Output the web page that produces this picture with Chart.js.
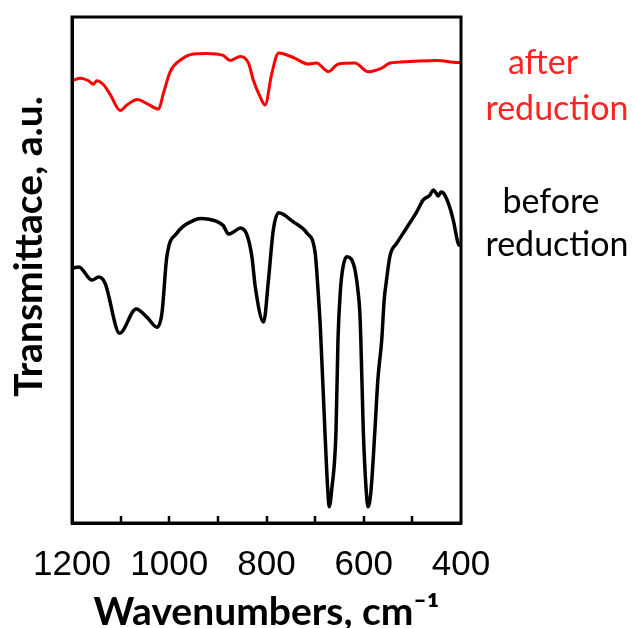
<!DOCTYPE html>
<html>
<head>
<meta charset="utf-8">
<script src="https://cdn.jsdelivr.net/npm/chart.js@4"></script>
<style>
  html, body { margin: 0; padding: 0; background: #fff; }
  #wrap { width: 633px; height: 628px; }
</style>
</head>
<body>
<div id="wrap"><canvas id="myChart"></canvas></div>
<script>
// wavenumbers (cm-1) and transmittance (a.u.)
var wnBefore = [1197, 1186, 1159, 1145, 1132, 1102, 1068, 1046, 1025, 1015, 1005, 984, 950, 936, 902, 889, 878, 868, 854, 840,
    830, 823, 806, 796, 786, 775, 745, 717, 700, 694, 689, 680, 674, 671, 666, 657, 653, 648, 643, 635, 626, 618, 612, 608,
    606, 601, 595, 591, 585, 577, 571, 563, 558, 554, 546, 532, 512, 491, 478, 464, 457, 451, 447, 441, 436, 426, 416, 406, 401];
var tBefore = [50.4, 50.6, 48.0, 48.6, 47.4, 37.5, 42.3, 40.7, 38.7, 41.5, 52.6, 57.3, 59.8, 60.2, 59.6, 58.8, 57.1, 57.5, 58.3, 56.9,
    52.6, 46.6, 39.7, 48.0, 57.9, 61.3, 59.5, 57.3, 53.4, 46.0, 38.1, 18.4, 6.5, 3.2, 6.5, 18.4, 36.2, 46.0, 50.4, 52.6, 52.2, 50.0, 46.0, 41.5,
    36.2, 18.4, 6.5, 3.2, 6.5, 18.4, 28.3, 36.2, 44.1, 47.4, 52.8, 55.3, 58.3, 61.5, 63.8, 64.8, 65.8, 65.2, 64.6, 65.4, 65.2, 63.2, 59.9, 55.3, 54.7];

var wnAfter = [1197, 1183, 1166, 1156, 1149, 1135, 1121, 1101, 1087, 1066, 1046, 1022, 1012, 998, 977, 950, 923, 889, 875, 854,
    837, 827, 813, 803, 789, 775, 745, 714, 697, 673, 652, 618, 591, 563, 546, 505, 450, 406, 401];
var tAfter = [87.5, 87.9, 87.4, 86.7, 87.4, 86.6, 84.6, 81.5, 82.6, 83.7, 82.9, 81.8, 84.9, 89.2, 91.5, 92.7, 92.8, 92.4, 91.4, 92.2,
    90.9, 87.5, 84.2, 82.6, 88.9, 92.9, 92.0, 90.7, 90.9, 89.2, 90.7, 90.9, 89.2, 89.9, 90.9, 91.2, 91.4, 91.0, 91.0];

var xTicks = [1200, 1000, 800, 600, 400];
var xMinorTicks = [1100, 1000, 900, 800, 700, 600, 500];

function toPoints(xs, ys) {
    return xs.map(function (x, i) { return { x: x, y: ys[i] }; });
}

// box round the plot, inward ticks, and the two curve captions on the right
var extras = {
    id: 'extras',
    afterDraw: function (chart) {
        var ctx = chart.ctx;
        var a = chart.chartArea;
        var sx = chart.scales.x;
        ctx.save();
        ctx.strokeStyle = '#000';
        ctx.lineWidth = 3;
        ctx.strokeRect(a.left, a.top, a.right - a.left, a.bottom - a.top);
        ctx.lineWidth = 2.5;
        ctx.beginPath();
        xMinorTicks.forEach(function (v) {
            var px = Math.round(sx.getPixelForValue(v));
            ctx.moveTo(px, a.bottom);
            ctx.lineTo(px, a.bottom - 7);
        });
        ctx.stroke();
        ctx.font = '34px Lato';
        ctx.textAlign = 'center';
        ctx.textBaseline = 'alphabetic';
        ctx.fillStyle = '#ff2424';
        ctx.fillText('after', a.right + 82, 74);
        ctx.fillText('reduction', a.right + 96, 120);
        ctx.fillStyle = '#000';
        ctx.fillText('before', a.right + 90, 213);
        ctx.fillText('reduction', a.right + 96, 256);
        ctx.restore();
    }
};

var ctx1 = document.getElementById('myChart').getContext('2d');
var myChart = new Chart(ctx1, {
    type: 'line',
    data: {
        datasets: [{
            label: 'after reduction',
            data: toPoints(wnAfter, tAfter),
            borderColor: 'rgb(255, 0, 0)',
            borderWidth: 3,
            pointRadius: 0,
            cubicInterpolationMode: 'monotone',
            fill: false
        }, {
            label: 'before reduction',
            data: toPoints(wnBefore, tBefore),
            borderColor: '#000',
            borderWidth: 3.5,
            pointRadius: 0,
            cubicInterpolationMode: 'monotone',
            fill: false
        }]
    },
    options: {
        responsive: true,
        maintainAspectRatio: false,
        animation: false,
        layout: { padding: { top: 17, right: 172, left: 0, bottom: 0 } },
        plugins: { legend: { display: false }, tooltip: { enabled: false } },
        scales: {
            x: {
                type: 'linear',
                reverse: true,
                min: 400,
                max: 1200,
                afterFit: function (s) { s.height = 105; },
                afterBuildTicks: function (s) {
                    s.ticks = xTicks.map(function (v) { return { value: v }; });
                },
                ticks: {
                    autoSkip: false,
                    maxRotation: 0,
                    padding: 13,
                    color: '#000',
                    font: { family: 'Liberation Sans', size: 35 },
                    callback: function (v) { return String(v); }
                },
                grid: { display: false },
                border: { color: '#000', width: 3 },
                title: {
                    display: true,
                    text: 'Wavenumbers, cm⁻¹',
                    color: '#000',
                    font: { family: 'Lato', weight: 'bold', size: 39, lineHeight: 0.8 },
                    padding: { top: 0, bottom: 0 }
                }
            },
            y: {
                min: 0,
                max: 100,
                afterFit: function (s) { s.width = 72; },
                ticks: { display: false },
                grid: { display: false },
                border: { color: '#000', width: 3 },
                title: {
                    display: true,
                    text: '     Transmittace, a.u.',
                    color: '#000',
                    font: { family: 'Lato', weight: 'bold', size: 39 },
                    padding: { top: 6, bottom: 0 }
                }
            }
        }
    },
    plugins: [extras]
});
</script>
</body>
</html>
